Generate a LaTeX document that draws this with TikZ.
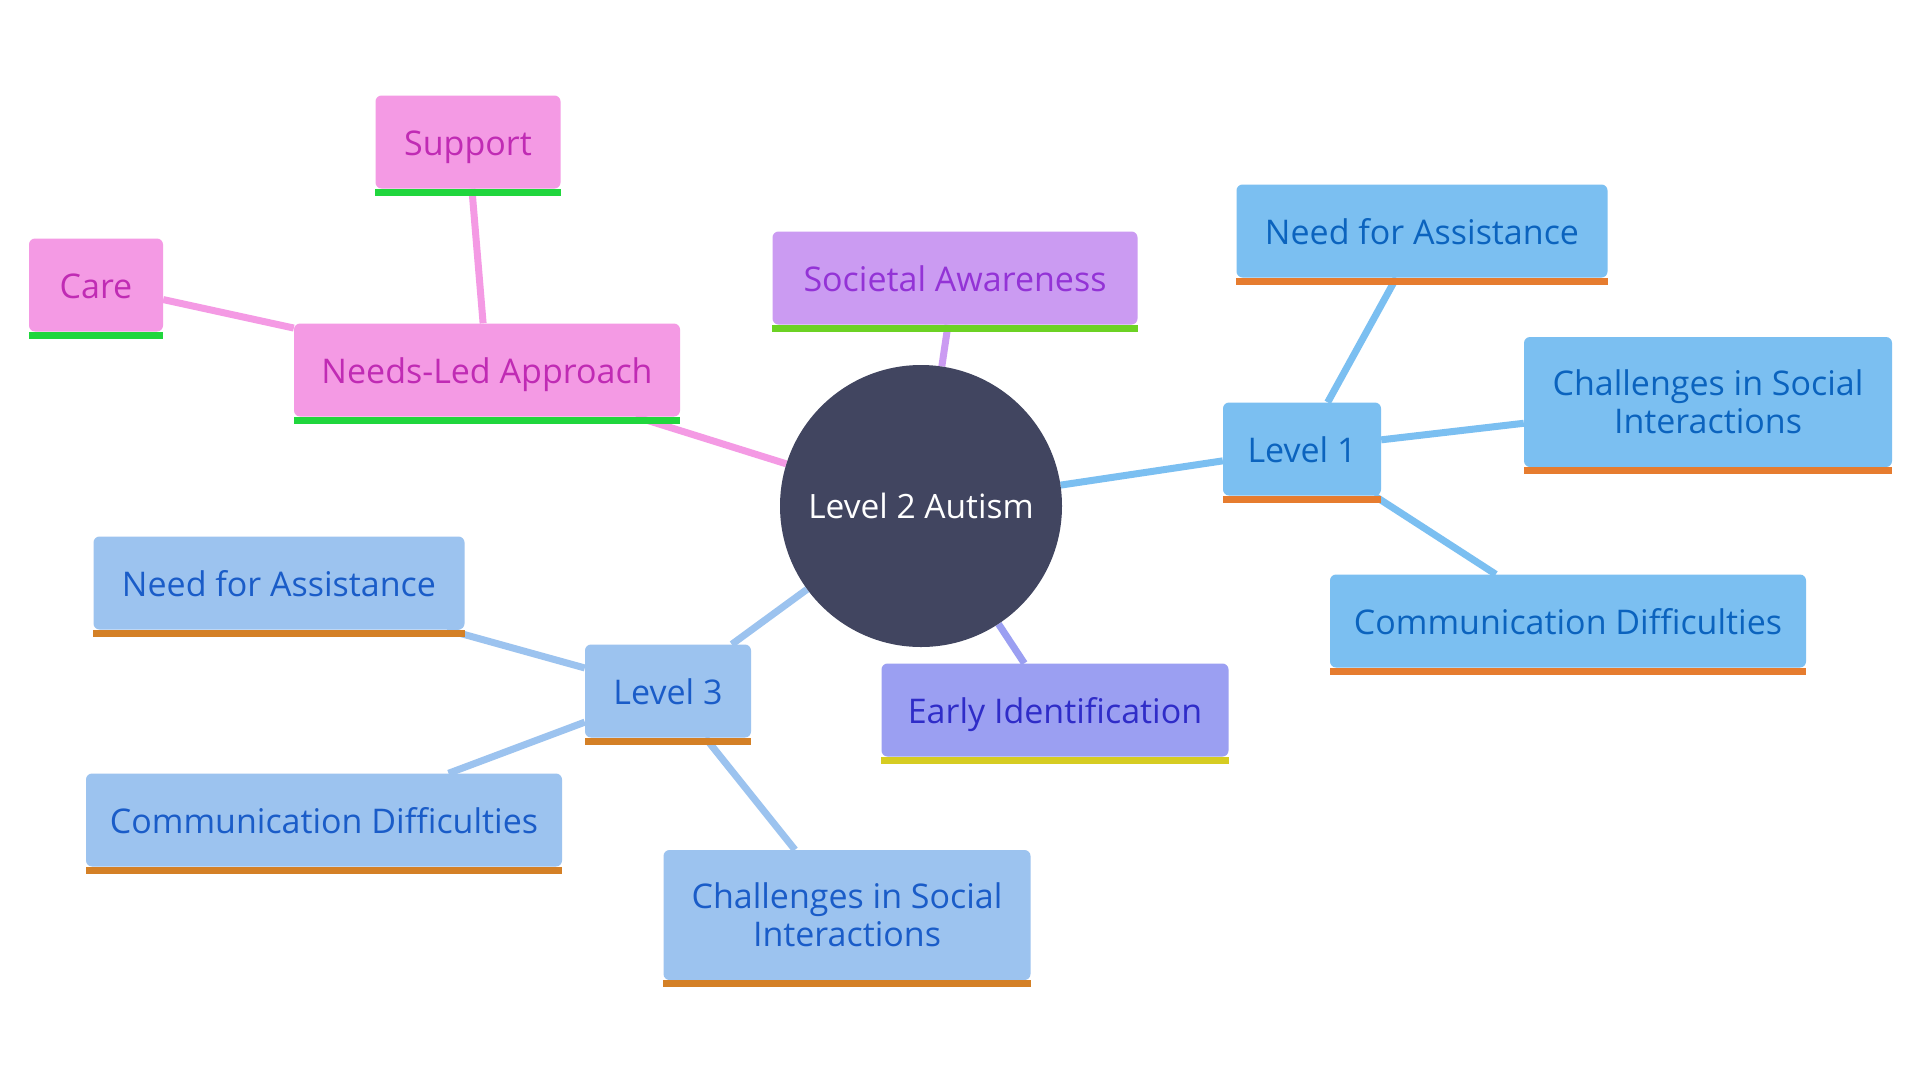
\documentclass[tikz,border=0pt]{standalone}
\usepackage{fontspec}
\setmainfont{Open Sans}
\usetikzlibrary{backgrounds}
\definecolor{hubfill}{HTML}{414560}
\definecolor{pinkfill}{HTML}{F49AE4}
\definecolor{pinktext}{HTML}{C02BB4}
\definecolor{pinkbar}{HTML}{20D63D}
\definecolor{lilacfill}{HTML}{CB9BF2}
\definecolor{lilactext}{HTML}{9333D6}
\definecolor{lilacbar}{HTML}{6CD224}
\definecolor{onefill}{HTML}{7BBFF1}
\definecolor{onetext}{HTML}{0B63BE}
\definecolor{onebar}{HTML}{E67C2F}
\definecolor{threefill}{HTML}{9CC3EF}
\definecolor{threetext}{HTML}{1A5CC8}
\definecolor{threebar}{HTML}{D48026}
\definecolor{earlyfill}{HTML}{9B9FF2}
\definecolor{earlytext}{HTML}{2F2CC8}
\definecolor{earlybar}{HTML}{D6CC22}
\tikzset{box/.style={rectangle, rounded corners=6pt, inner sep=0pt, align=center,
  font=\fontsize{34}{38}\selectfont, minimum height=93pt, text height=34pt, text depth=8pt}}
\tikzset{twoline/.style={minimum height=130pt, text height={}, text depth={}}}
\tikzset{hub/.style={circle, fill=hubfill, text=white, inner sep=0pt, minimum size=282pt,
  font=\fontsize{33.5}{38}\selectfont}}
\tikzset{pinkbox/.style={box, fill=pinkfill, text=pinktext}}
\tikzset{lilacbox/.style={box, fill=lilacfill, text=lilactext}}
\tikzset{onebox/.style={box, fill=onefill, text=onetext}}
\tikzset{threebox/.style={box, fill=threefill, text=threetext}}
\tikzset{earlybox/.style={box, fill=earlyfill, text=earlytext}}
\tikzset{link/.style={line width=7pt}}

\begin{document}
\begin{tikzpicture}[x=1pt,y=-1pt]
\useasboundingbox (0,0) rectangle (1920,1080);
\node[hub] (autism) at (921,506) {Level 2 Autism};

% needs-led branch
\node[pinkbox, minimum width=386pt] (needs) at (487,370) {Needs-Led Approach};
\node[pinkbox, minimum width=134pt] (care) at (96,285) {Care};
\node[pinkbox, minimum width=185pt] (support) at (468,142) {Support};

\node[lilacbox, minimum width=365pt] (societal) at (955,278) {Societal Awareness};
\node[earlybox, minimum width=347pt] (early) at (1055,710) {Early Identification};

% level 1 branch
\node[onebox, minimum width=158pt] (level1) at (1302,449) {Level 1};
\node[onebox, minimum width=371pt] (l1need) at (1422,231) {Need for Assistance};
\node[onebox, twoline, minimum width=368pt] (l1chal) at (1708,402) {Challenges in Social\\Interactions};
\node[onebox, minimum width=476pt] (l1comm) at (1568,621) {Communication Difficulties};

% level 3 branch
\node[threebox, minimum width=166pt] (level3) at (668,691) {Level 3};
\node[threebox, minimum width=371pt] (l3need) at (279,583) {Need for Assistance};
\node[threebox, minimum width=476pt] (l3comm) at (324,820) {Communication Difficulties};
\node[threebox, twoline, minimum width=367pt] (l3chal) at (847,915) {Challenges in Social\\Interactions};

\foreach \nd/\col in {needs/pinkbar, care/pinkbar, support/pinkbar, societal/lilacbar,
  early/earlybar, level1/onebar, l1need/onebar, l1chal/onebar, l1comm/onebar,
  level3/threebar, l3need/threebar, l3comm/threebar, l3chal/threebar}
  \fill[\col] (\nd.south west) rectangle ([yshift=-7pt]\nd.south east);

\begin{scope}[on background layer]
\fill[white] (0,0) rectangle (1920,1080);
\draw[link, pinkfill] (autism) -- (needs);
\draw[link, pinkfill] (needs) -- (care);
\draw[link, pinkfill] (needs) -- (support);
\draw[link, lilacfill] (autism) -- (societal);
\draw[link, earlyfill] (autism) -- (early);
\draw[link, onefill] (autism) -- (level1);
\draw[link, onefill] (level1) -- (l1need);
\draw[link, onefill] (level1) -- (l1chal);
\draw[link, onefill] (level1) -- (l1comm);
\draw[link, threefill] (autism) -- (level3);
\draw[link, threefill] (level3) -- (l3need);
\draw[link, threefill] (level3) -- (l3comm);
\draw[link, threefill] (level3) -- (l3chal);
\end{scope}
\end{tikzpicture}
\end{document}
